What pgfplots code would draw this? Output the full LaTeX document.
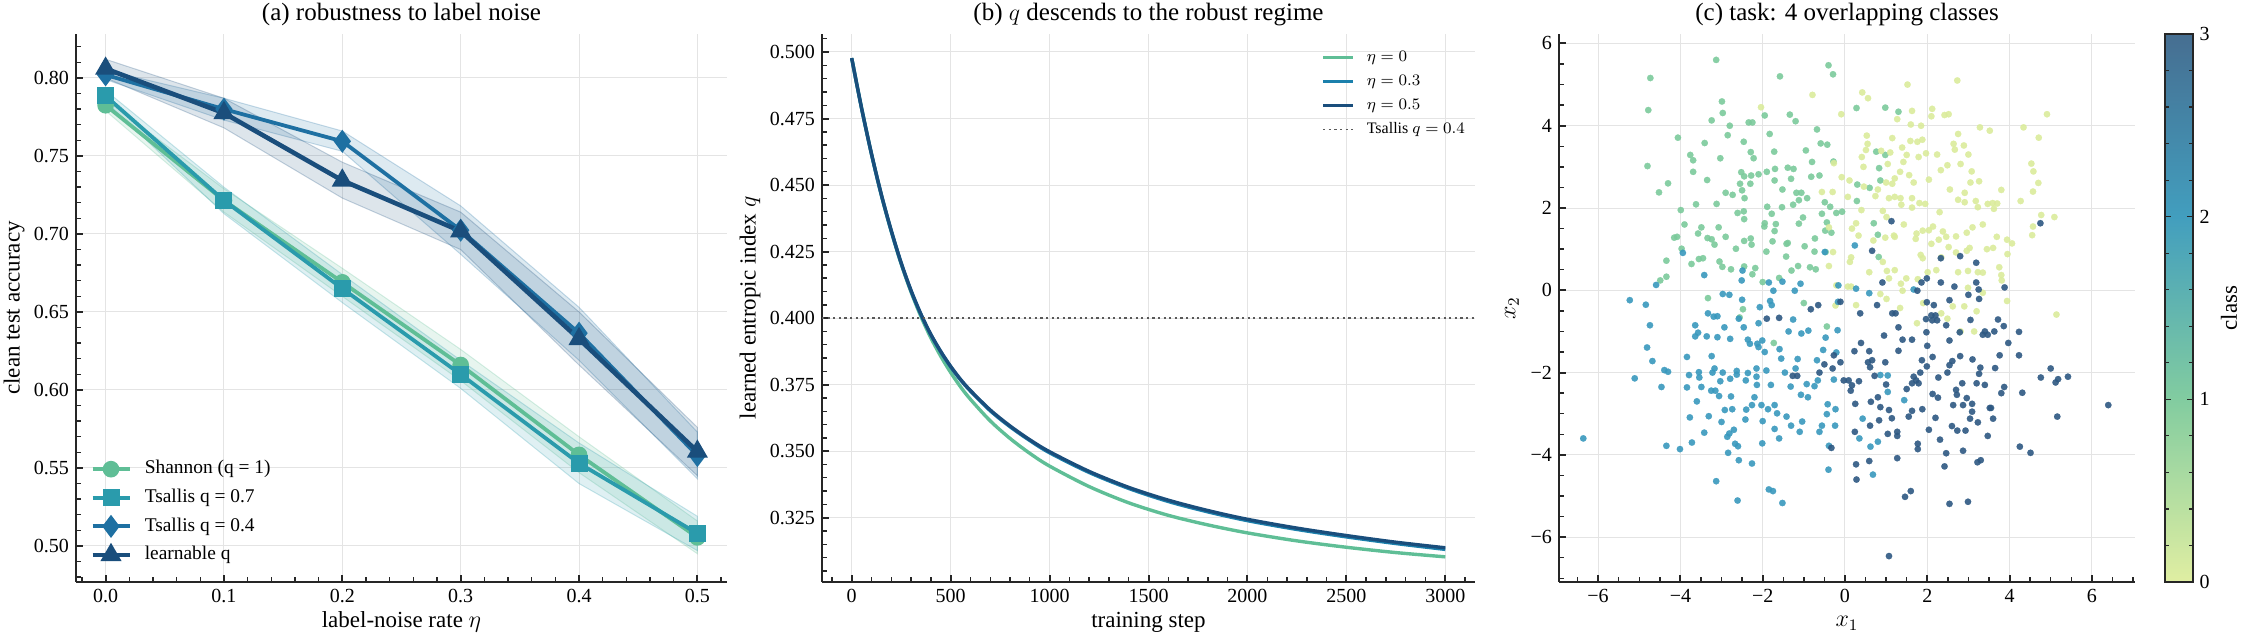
\documentclass[border=0pt]{standalone}
\usepackage{fontspec}
\setmainfont{Liberation Serif}
\usepackage{pgfplots}
\pgfplotsset{compat=1.18}

\definecolor{cA}{RGB}{95,190,150}
\definecolor{cB}{RGB}{42,155,172}
\definecolor{cC}{RGB}{30,112,162}
\definecolor{cD}{RGB}{26,78,124}
\definecolor{eB}{RGB}{27,128,172}
\definecolor{spine}{RGB}{38,38,38}
\definecolor{gridc}{RGB}{228,228,228}
\definecolor{k0}{RGB}{218,235,155}
\definecolor{k1}{RGB}{123,202,155}
\definecolor{k2}{RGB}{56,152,189}
\definecolor{k3}{RGB}{45,88,130}

\pgfplotsset{
  mystyle/.style={
    scale only axis,
    axis lines*=left,
    axis line style={spine, line width=1pt},
    tick align=inside,
    major tick length=3.7pt, minor tick length=2.4pt,
    major tick style={spine, line width=1pt},
    minor tick style={spine, line width=0.7pt},
    grid=major,
    major grid style={gridc, line width=0.5pt},
    tick label style={font=\fontsize{10}{11}\selectfont},
    label style={font=\fontsize{11.5}{13}\selectfont},
    /pgf/number format/assume math mode=true,
  },
  dots/.style={only marks, mark=*, mark size=1.6pt, color=#1, mark options={draw=#1, fill=#1, line width=0.1pt, opacity=0.9}},
}
\newcommand\titlefont{\fontsize{12.5}{14}\selectfont}

\begin{document}
\begin{tikzpicture}
\path[use as bounding box] (0,0) rectangle (1122.5pt,320.5pt);

% titles (text only)
\node[anchor=base, font=\titlefont, inner sep=0pt] at (200.75pt,310pt) {(a) robustness to label noise};
\node[anchor=base, font=\titlefont, inner sep=0pt] at (574.25pt,310pt) {(b) $q$ descends to the robust regime};
\node[anchor=base, font=\titlefont, inner sep=0pt] at (923.5pt,310pt) {(c) task: 4 overlapping classes};

% ---------------- (a) ----------------
\begin{axis}[mystyle,
  at={(38pt,29.5pt)}, anchor=south west,
  width=325.5pt, height=274pt,
  xmin=-0.025, xmax=0.525, ymin=0.4769, ymax=0.8282,
  xtick={0,0.1,0.2,0.3,0.4,0.5},
  xticklabels={0.0,0.1,0.2,0.3,0.4,0.5},
  ytick={0.5,0.55,0.6,0.65,0.7,0.75,0.8},
  yticklabels={0.50,0.55,0.60,0.65,0.70,0.75,0.80},
  minor xtick={-0.02,0,...,0.52},
  minor ytick={0.48,0.49,...,0.825},
  xlabel={label-noise rate $\eta$},
  ylabel={clean test accuracy},
  xlabel style={at={(axis description cs:0.5,-0.073)}, anchor=center},
  ylabel style={at={(axis description cs:-0.095,0.5)}, anchor=center},
  legend style={at={(0.012,0.019)}, anchor=south west, draw=none, fill=none,
    font=\fontsize{9.7}{11}\selectfont, row sep=2.1pt, column sep=5pt,
    nodes={inner sep=1.5pt, text height=7pt, text depth=2.2pt}},
  legend cell align=left,
  legend image code/.code={\draw[#1, mark repeat=2, mark phase=2] plot coordinates {(0pt,0pt) (9.25pt,0pt) (18.5pt,0pt)};},
]
% bands
\addplot[forget plot, fill=cA, fill opacity=0.15, draw=cA, draw opacity=0.25, line width=0.5pt]
  coordinates {(0,0.786)(0.1,0.729)(0.2,0.678)(0.3,0.626)(0.4,0.570)(0.5,0.516)
               (0.5,0.495)(0.4,0.547)(0.3,0.606)(0.2,0.660)(0.1,0.714)(0,0.779)} -- cycle;
\addplot[forget plot, fill=cB, fill opacity=0.15, draw=cB, draw opacity=0.25, line width=0.5pt]
  coordinates {(0,0.792)(0.1,0.730)(0.2,0.674)(0.3,0.619)(0.4,0.566)(0.5,0.519)
               (0.5,0.497)(0.4,0.540)(0.3,0.601)(0.2,0.656)(0.1,0.713)(0,0.785)} -- cycle;
\addplot[forget plot, fill=cC, fill opacity=0.15, draw=cC, draw opacity=0.25, line width=0.5pt]
  coordinates {(0,0.805)(0.1,0.787)(0.2,0.766)(0.3,0.718)(0.4,0.653)(0.5,0.573)
               (0.5,0.543)(0.4,0.619)(0.3,0.687)(0.2,0.753)(0.1,0.773)(0,0.799)} -- cycle;
\addplot[forget plot, fill=cD, fill opacity=0.15, draw=cD, draw opacity=0.25, line width=0.5pt]
  coordinates {(0,0.812)(0.1,0.787)(0.2,0.746)(0.3,0.714)(0.4,0.650)(0.5,0.576)
               (0.5,0.545)(0.4,0.616)(0.3,0.690)(0.2,0.723)(0.1,0.768)(0,0.800)} -- cycle;
% lines
\addplot[cA, line width=1.9pt, mark=*, mark size=3.2pt, mark options={solid}]
  coordinates {(0,0.7825)(0.1,0.7215)(0.2,0.669)(0.3,0.616)(0.4,0.5584)(0.5,0.5055)};
\addlegendentry{Shannon (q = 1)}
\addplot[cB, line width=1.9pt, mark=square*, mark size=3.3pt, mark options={solid}]
  coordinates {(0,0.7885)(0.1,0.7215)(0.2,0.665)(0.3,0.610)(0.4,0.553)(0.5,0.508)};
\addlegendentry{Tsallis q = 0.7}
\addplot[cC, line width=1.9pt, mark=diamond*, mark size=4.2pt, mark options={solid}]
  coordinates {(0,0.802)(0.1,0.780)(0.2,0.7594)(0.3,0.7024)(0.4,0.6364)(0.5,0.5579)};
\addlegendentry{Tsallis q = 0.4}
\addplot[cD, line width=2.3pt, mark=triangle*, mark size=3.8pt, mark options={solid}]
  coordinates {(0,0.806)(0.1,0.7775)(0.2,0.7343)(0.3,0.7018)(0.4,0.6327)(0.5,0.5605)};
\addlegendentry{learnable q}
\end{axis}

% ---------------- (b) ----------------
\begin{axis}[mystyle,
  at={(411pt,29.5pt)}, anchor=south west,
  width=326.5pt, height=274pt,
  xmin=-150, xmax=3150, ymin=0.30085, ymax=0.50676,
  xtick={0,500,1000,1500,2000,2500,3000},
  xticklabels={0,500,1000,1500,2000,2500,3000},
  ytick={0.325,0.35,0.375,0.4,0.425,0.45,0.475,0.5},
  yticklabels={0.325,0.350,0.375,0.400,0.425,0.450,0.475,0.500},
  minor xtick={-100,0,...,3100},
  minor ytick={0.305,0.31,...,0.5055},
  xlabel={training step},
  ylabel={learned entropic index $q$},
  xlabel style={at={(axis description cs:0.5,-0.073)}, anchor=center},
  ylabel style={at={(axis description cs:-0.110,0.5)}, anchor=center},
  legend style={at={(0.755,0.985)}, anchor=north west, draw=none, fill=none,
    font=\fontsize{8}{9}\selectfont, row sep=1.2pt, column sep=4.5pt,
    nodes={inner sep=1.5pt, text height=6pt, text depth=1.8pt}},
  legend cell align=left,
  legend image code/.code={\draw[#1] (0pt,0pt) -- (15pt,0pt);},
]
\addplot[cA, line width=1.7pt, smooth]
  coordinates {(0,0.4977)(50,0.4789)(100,0.4617)(150,0.4462)(200,0.4326)(250,0.4204)
   (300,0.4098)(350,0.4006)(400,0.3926)(450,0.3857)(500,0.3796)(550,0.3742)(600,0.3695)
   (700,0.3614)(800,0.3548)(900,0.3492)(1000,0.3444)(1200,0.3367)(1400,0.3306)
   (1600,0.3259)(1800,0.3223)(2000,0.3193)(2250,0.3163)(2500,0.3139)(2750,0.3119)(3000,0.3103)};
\addlegendentry{$\eta=0$}
\addplot[eB, line width=1.7pt, smooth]
  coordinates {(0,0.4977)(50,0.4788)(100,0.4616)(150,0.4462)(200,0.4327)(250,0.4206)
   (300,0.4102)(350,0.4013)(400,0.3937)(450,0.3873)(500,0.3817)(550,0.3768)(600,0.3726)
   (700,0.3652)(800,0.3592)(900,0.3540)(1000,0.3494)(1200,0.3420)(1400,0.3360)
   (1600,0.3311)(1800,0.3272)(2000,0.3239)(2250,0.3206)(2500,0.3178)(2750,0.3153)(3000,0.3131)};
\addlegendentry{$\eta=0.3$}
\addplot[cD, line width=1.7pt, smooth]
  coordinates {(0,0.4977)(50,0.4789)(100,0.4618)(150,0.4464)(200,0.4329)(250,0.4208)
   (300,0.4104)(350,0.4015)(400,0.3939)(450,0.3875)(500,0.3819)(550,0.3770)(600,0.3728)
   (700,0.3655)(800,0.3595)(900,0.3543)(1000,0.3498)(1200,0.3424)(1400,0.3364)
   (1600,0.3316)(1800,0.3277)(2000,0.3244)(2250,0.3211)(2500,0.3183)(2750,0.3158)(3000,0.3137)};
\addlegendentry{$\eta=0.5$}
\addplot[black!65, line width=0.9pt, dash pattern=on 1.1pt off 1.7pt]
  coordinates {(-150,0.4)(3150,0.4)};
\addlegendentry{Tsallis $q=0.4$}
\end{axis}

% ---------------- (c) ----------------
\begin{axis}[mystyle,
  at={(779.5pt,29.5pt)}, anchor=south west,
  width=288pt, height=274pt,
  xmin=-6.95, xmax=7.05, ymin=-7.09, ymax=6.23,
  xtick={-6,-4,-2,0,2,4,6},
  xticklabels={−6,−4,−2,0,2,4,6},
  ytick={-6,-4,-2,0,2,4,6},
  yticklabels={−6,−4,−2,0,2,4,6},
  minor xtick={-6.5,-6,...,7},
  minor ytick={-7,-6.5,...,6},
  xlabel={$x_1$},
  ylabel={$x_2$},
  xlabel style={at={(axis description cs:0.5,-0.075)}, anchor=center},
  ylabel style={at={(axis description cs:-0.0816,0.5)}, anchor=center},
  colorbar,
  colormap={cls}{rgb255(0cm)=(224,238,162); rgb255(1cm)=(130,204,160); rgb255(2cm)=(66,158,190); rgb255(3cm)=(70,110,145)},
  point meta min=0, point meta max=3,
  colorbar style={
    at={(parent axis.north east)}, anchor=north west, xshift=6.2pt,
    scale only axis, width=14pt, height=274pt,
    ytick={0,1,2,3}, yticklabels={0,1,2,3},
    minor ytick={0,0.2,...,3},
    grid=none,
    axis line style={spine, line width=1pt},
    tick align=inside,
    major tick length=3pt, minor tick length=2pt,
    major tick style={spine, line width=0.8pt},
    minor tick style={spine, line width=0.6pt},
    yticklabel style={font=\fontsize{10}{11}\selectfont},
    ylabel={class},
    ylabel style={font=\fontsize{11.5}{13}\selectfont, at={(axis description cs:2.3,0.5)}, anchor=center},
  },
]
\addplot[dots=k1]
coordinates {(-3.13,5.60)(-4.73,5.16)(-4.78,4.38)(-1.58,5.20)(-0.40,5.47)(-0.29,5.25)(-2.99,4.59)(-2.97,4.31)(-3.24,4.13)(-4.06,3.71)(-1.34,4.27)(-1.20,4.11)(-4.80,3.02)(-3.76,3.29)(-3.69,3.16)(-3.41,3.58)(-3.69,2.88)(-3.35,2.68)(-3.03,3.21)(-2.85,3.77)(-2.46,3.61)(-2.34,4.08)(-2.25,4.08)(-1.83,3.80)(-1.72,3.37)(-2.29,3.36)(-2.22,3.21)(-2.45,2.77)(-2.52,2.87)(-2.30,2.59)(-2.73,2.32)(-2.90,2.37)(-3.12,2.10)(-3.62,2.09)(-3.99,1.95)(-4.52,2.38)(-4.15,1.28)(-4.08,1.30)(-3.97,1.01)(-4.34,0.72)(-4.34,0.33)(-4.49,0.24)(-3.73,0.64)(-3.55,0.76)(-3.45,0.78)(-3.49,1.53)(-3.57,1.38)(-3.34,1.27)(-3.24,1.24)(-3.17,1.11)(-3.07,1.53)(-2.90,1.30)(-3.05,0.70)(-2.98,0.57)(-2.77,0.51)(-2.65,1.01)(-2.45,1.20)(-2.27,1.11)(-2.29,1.26)(-2.18,0.54)(-2.25,0.39)(-2.45,0.58)(-2.46,1.92)(-2.45,1.73)(-2.61,1.88)(-2.44,2.24)(-2.50,2.43)(-2.55,2.59)(-2.28,2.79)(-2.10,2.82)(-1.90,2.88)(-1.70,2.95)(-1.39,2.98)(-1.31,2.71)(-1.25,2.95)(-1.52,2.45)(-1.71,2.67)(-1.18,2.37)(-1.06,2.37)(-0.92,2.24)(-1.12,2.19)(-1.26,2.08)(-1.53,2.02)(-1.78,1.86)(-1.89,2.03)(-1.95,1.63)(-1.68,1.61)(-1.71,1.44)(-1.76,1.19)(-1.96,1.55)(-1.91,0.94)(-1.42,1.13)(-1.39,1.15)(-1.43,0.82)(-1.30,0.48)(-1.14,0.59)(-0.98,1.07)(-1.12,1.62)(-1.02,1.77)(-0.82,2.76)(-0.80,3.12)(-0.95,3.40)(-0.68,3.91)(-0.43,3.54)(-0.59,3.57)(-0.28,3.13)(-0.62,2.79)(-0.36,2.03)(-0.49,2.14)(-0.44,1.65)(-0.56,1.86)(-0.73,1.26)(-0.48,1.45)(-0.74,0.94)(-0.85,0.56)(-0.71,0.51)(-0.47,0.93)(-0.33,1.40)(-0.21,1.88)(-0.07,1.91)(0.29,2.17)(0.30,2.57)(0.60,2.49)(0.70,1.63)(0.80,1.35)(0.82,0.81)(0.28,4.43)(0.98,4.44)(1.30,4.34)(0.98,3.29)(0.76,3.37)(0.83,2.97)(0.86,2.67)(-2.56,-0.66)(-2.48,-0.46)(-1.00,-0.31)(-3.33,-0.19)(-0.44,-0.88)(-1.73,-1.28)(-2.80,4.00)(-1.95,4.25)(-4.30,2.60)(-3.90,1.60)(-2.00,0.20)(-1.60,0.30)};
\addplot[dots=k0]
coordinates {(-2.04,4.45)(-0.79,4.75)(-0.09,4.28)(0.42,4.81)(0.56,4.67)(1.52,5.00)(2.73,5.10)(1.63,4.36)(1.27,4.16)(1.60,4.03)(2.12,4.41)(2.10,4.23)(2.42,4.26)(2.52,4.28)(4.91,4.28)(3.28,3.96)(3.52,3.88)(4.34,3.96)(4.71,3.71)(2.75,3.80)(1.88,3.66)(1.76,3.61)(1.59,3.63)(2.64,3.56)(2.89,3.52)(2.67,3.42)(2.24,3.30)(1.97,3.33)(1.39,3.47)(1.10,3.35)(0.88,3.39)(0.55,3.56)(0.51,3.41)(0.41,3.24)(0.53,3.76)(1.04,3.07)(1.50,3.29)(1.79,3.24)(1.42,3.12)(1.34,2.88)(1.56,2.80)(1.67,2.62)(1.21,2.72)(1.15,2.59)(1.00,2.62)(0.80,2.45)(0.74,2.29)(1.07,2.24)(1.21,2.27)(1.35,2.24)(1.63,2.24)(1.81,2.12)(1.63,2.01)(1.37,2.08)(0.92,1.93)(1.01,1.78)(1.43,1.60)(1.21,1.30)(1.19,1.33)(0.98,1.28)(0.69,1.21)(0.27,1.63)(0.17,1.50)(0.33,1.33)(0.15,0.80)(0.12,0.69)(-0.08,2.75)(0.11,2.67)(0.46,2.52)(-0.56,2.39)(-0.30,2.39)(-0.27,3.09)(2.04,2.69)(2.33,2.92)(2.49,3.04)(2.81,3.07)(3.08,2.89)(3.26,2.65)(3.05,2.62)(2.91,2.37)(2.75,2.20)(2.91,2.14)(3.18,2.17)(3.23,2.02)(3.47,2.10)(3.59,2.12)(3.70,2.11)(3.62,1.98)(3.80,2.44)(4.27,2.17)(4.53,3.08)(4.58,2.89)(4.57,2.40)(4.70,2.61)(4.77,1.83)(5.09,1.78)(4.57,1.55)(4.55,1.34)(3.94,1.23)(4.06,1.14)(3.69,1.30)(3.45,1.00)(3.60,1.03)(3.95,0.88)(3.75,0.56)(3.80,0.37)(3.81,0.24)(3.94,-0.26)(5.14,-0.59)(3.35,1.60)(3.10,1.53)(2.96,1.40)(3.03,1.03)(2.96,0.96)(2.70,1.31)(2.70,0.92)(2.52,1.05)(2.46,1.30)(2.28,1.23)(2.38,1.43)(2.14,1.55)(2.04,1.46)(1.89,1.45)(1.74,1.38)(1.72,1.25)(1.84,0.86)(1.89,0.78)(2.10,1.13)(2.34,0.80)(2.22,0.49)(2.01,0.44)(1.77,0.27)(1.49,0.29)(1.36,0.16)(1.40,-0.01)(1.07,0.29)(1.21,0.49)(1.02,0.47)(0.92,0.69)(0.59,0.44)(2.75,0.44)(2.99,0.47)(3.23,0.44)(3.35,0.43)(2.99,0.06)(2.90,-0.39)(2.62,-0.39)(2.34,-0.56)(2.49,-0.69)(2.81,-1.00)(3.14,-1.00)(3.20,-0.51)(3.35,-0.06)(1.90,-0.31)(1.75,-0.80)(1.34,-0.43)(1.01,-0.21)(0.86,-0.09)(0.27,-0.36)(0.15,0.09)(-0.23,-0.37)(-0.21,0.12)(0.07,0.09)(-0.39,0.59)(-0.29,0.93)(-0.39,1.53)(0.07,2.27)(2.30,1.90)(1.95,2.10)(2.55,2.45)(0.45,3.00)(1.15,3.70)(1.85,4.00)(3.00,3.30)(0.40,1.95)};
\addplot[dots=k2]
coordinates {(-6.36,-3.60)(-5.23,-0.24)(-5.11,-2.14)(-4.84,-0.35)(-4.81,-1.39)(-4.74,-0.85)(-4.68,-1.72)(-4.59,0.13)(-4.46,-2.35)(-4.39,-1.94)(-4.30,-1.98)(-4.34,-3.78)(-4.01,-3.86)(-3.84,-1.62)(-3.84,-2.36)(-3.77,-3.09)(-3.79,-2.06)(-3.72,-3.70)(-3.64,-0.85)(-3.64,-1.12)(-3.57,-1.03)(-3.55,-1.99)(-3.54,-2.12)(-3.49,-2.35)(-3.42,0.37)(-3.42,-3.46)(-3.33,-0.56)(-3.31,-3.06)(-3.36,-1.12)(-3.25,-2.44)(-3.24,-1.60)(-3.22,-2.00)(-3.19,-0.64)(-3.17,-1.90)(-3.15,-2.44)(-3.13,-4.64)(-3.10,-0.63)(-3.10,-1.14)(-3.06,-2.57)(-3.03,-2.21)(-2.97,-2.00)(-2.93,-0.90)(-2.92,-2.91)(-2.86,-3.56)(-2.81,-3.48)(-2.84,-3.95)(-2.79,-2.15)(-2.79,-1.18)(-2.77,-2.58)(-2.74,-2.89)(-2.70,-3.39)(-2.67,-3.73)(-2.61,-5.11)(-2.60,-3.79)(-2.58,-4.13)(-2.63,-1.96)(-2.63,-2.05)(-2.58,-0.69)(-2.50,-0.23)(-2.49,0.48)(-2.51,0.24)(-2.46,-0.90)(-2.41,-2.19)(-2.36,-2.01)(-2.42,-3.14)(-2.36,-1.20)(-2.31,-1.30)(-2.26,-4.21)(-2.26,-2.79)(-2.15,-1.90)(-2.15,-2.10)(-2.14,-2.30)(-2.13,-1.30)(-2.10,-0.80)(-2.10,-1.38)(-2.07,-0.41)(-2.03,-2.79)(-2.01,-3.72)(-2.00,-3.18)(-2.01,-1.22)(-1.95,-1.50)(-1.91,-1.95)(-1.87,-2.89)(-1.85,-4.84)(-1.75,-4.88)(-1.85,0.19)(-1.82,-0.26)(-1.78,-0.36)(-1.74,-0.01)(-1.71,-3.37)(-1.71,-2.79)(-1.65,-2.99)(-1.59,-1.43)(-1.55,-1.66)(-1.52,0.21)(-1.52,-5.17)(-1.46,-2.00)(-1.42,-3.07)(-1.37,-1.00)(-1.32,-2.34)(-1.31,-3.29)(-1.26,-0.71)(-1.22,-0.01)(-1.15,-1.67)(-1.10,-3.44)(-1.08,0.16)(-1.07,-2.54)(-1.06,-1.05)(-1.04,-3.19)(-0.93,-2.28)(-0.89,-0.98)(-0.74,-2.33)(-0.68,-1.70)(-0.66,-2.19)(-0.62,-3.44)(-0.56,-3.29)(-0.53,-1.45)(-0.47,-1.15)(-0.42,-2.77)(-0.44,-3.01)(-0.40,-4.36)(-0.39,-3.78)(-0.27,-2.17)(-0.23,-2.89)(-0.24,-3.29)(-0.21,-1.51)(-0.18,-0.97)(-0.16,0.12)(-0.49,0.93)(0.24,1.09)(0.27,0.04)(0.35,-3.60)(0.43,-3.12)(0.59,-0.07)(0.62,-3.80)(0.68,-4.48)(0.80,-3.68)(0.86,-2.06)(1.04,-2.47)(1.04,-2.07)(1.44,-2.67)(1.67,0.02)(-2.97,-0.09)(-2.81,-0.11)(-3.94,0.91)(-0.17,-0.28)(-3.60,-2.70)(-2.20,-2.60)(-1.80,-2.30)(-1.20,-1.90)(-0.90,-2.60)(-2.40,-2.90)(-3.00,-3.20)(-1.60,-3.60)};
\addplot[dots=k3]
coordinates {(6.40,-2.79)(5.42,-2.10)(5.18,-2.16)(5.12,-2.24)(5.00,-1.90)(5.16,-3.07)(4.76,-2.12)(4.75,1.63)(4.31,-2.49)(4.25,-3.80)(4.51,-3.95)(4.23,-1.01)(4.23,-1.58)(3.97,-1.28)(3.87,-2.35)(3.88,0.07)(3.86,-0.87)(3.76,-1.58)(3.72,-0.71)(3.63,-1.00)(3.65,-1.89)(3.60,-3.12)(3.55,-2.86)(3.52,-2.86)(3.47,-3.54)(3.47,-1.08)(3.40,-1.00)(3.35,-1.08)(3.30,-4.13)(3.22,-4.18)(3.29,-1.88)(3.26,-2.03)(3.20,-2.26)(3.23,-3.21)(3.19,0.67)(3.25,0.02)(3.26,-0.21)(3.19,0.19)(3.10,-1.68)(3.09,-2.76)(3.09,-2.95)(3.04,-3.12)(3.00,-0.11)(3.05,-0.72)(2.99,-5.14)(2.93,-3.41)(2.96,-2.62)(2.87,-2.79)(2.85,-2.26)(2.87,-3.90)(2.80,0.83)(2.79,-1.02)(2.73,-3.41)(2.72,-2.54)(2.70,-2.42)(2.66,0.09)(2.63,-2.79)(2.61,-1.72)(2.54,-1.22)(2.54,-0.24)(2.54,-1.82)(2.54,-5.19)(2.49,-2.00)(2.46,-0.85)(2.46,-3.96)(2.42,-4.28)(2.33,0.78)(2.33,0.19)(2.31,-3.63)(2.26,-2.61)(2.27,-2.12)(2.24,-0.73)(2.20,-0.61)(2.16,-0.36)(2.12,-0.73)(2.10,-0.61)(2.13,-1.62)(2.13,-2.52)(2.04,-3.39)(1.99,-0.29)(1.99,-1.85)(1.98,-1.02)(2.00,-1.35)(1.99,0.29)(1.97,-0.70)(1.86,0.19)(1.87,-1.70)(1.88,-2.89)(1.83,-2.00)(1.79,-2.26)(1.77,-3.73)(1.77,-3.86)(1.73,-2.19)(1.76,-0.01)(1.63,-1.20)(1.63,-2.93)(1.60,-4.88)(1.55,-3.07)(1.67,-2.10)(1.63,-2.26)(1.46,-5.02)(1.30,-0.90)(1.30,-1.47)(1.27,-3.44)(1.27,-3.54)(1.27,-4.08)(1.23,-0.56)(1.14,-3.11)(1.15,-0.56)(1.13,1.68)(1.07,-6.46)(1.07,-2.91)(1.04,-3.49)(0.98,-1.75)(1.00,-2.29)(0.95,-1.10)(0.91,0.19)(0.86,-2.84)(0.83,-3.16)(0.78,-0.36)(0.72,-2.08)(0.66,0.96)(0.66,-1.70)(0.63,-2.71)(0.61,-1.87)(0.61,-3.29)(0.59,-4.15)(0.56,-1.75)(0.59,-1.48)(0.39,-1.28)(0.37,-0.56)(0.34,-2.21)(0.28,-4.60)(0.27,-4.23)(0.25,-2.76)(0.24,-3.44)(0.23,-1.48)(0.17,-2.31)(0.14,-2.44)(0.09,-2.19)(-0.03,-2.19)(-0.11,-1.75)(-0.11,-0.28)(-0.27,-1.58)(-0.30,-1.90)(-0.33,-3.83)(-0.50,-1.80)(-0.62,-2.00)(-0.65,-0.36)(-0.83,-0.46)(-1.16,-2.08)(-1.27,-2.08)(-1.60,-0.67)(-1.90,-0.69)(2.80,-1.60)(3.40,-2.30)(1.40,-1.20)(2.20,-3.10)(0.80,-2.60)(1.50,-2.40)(2.60,-3.30)(3.80,-2.50)};
\end{axis}
\end{tikzpicture}
\end{document}
